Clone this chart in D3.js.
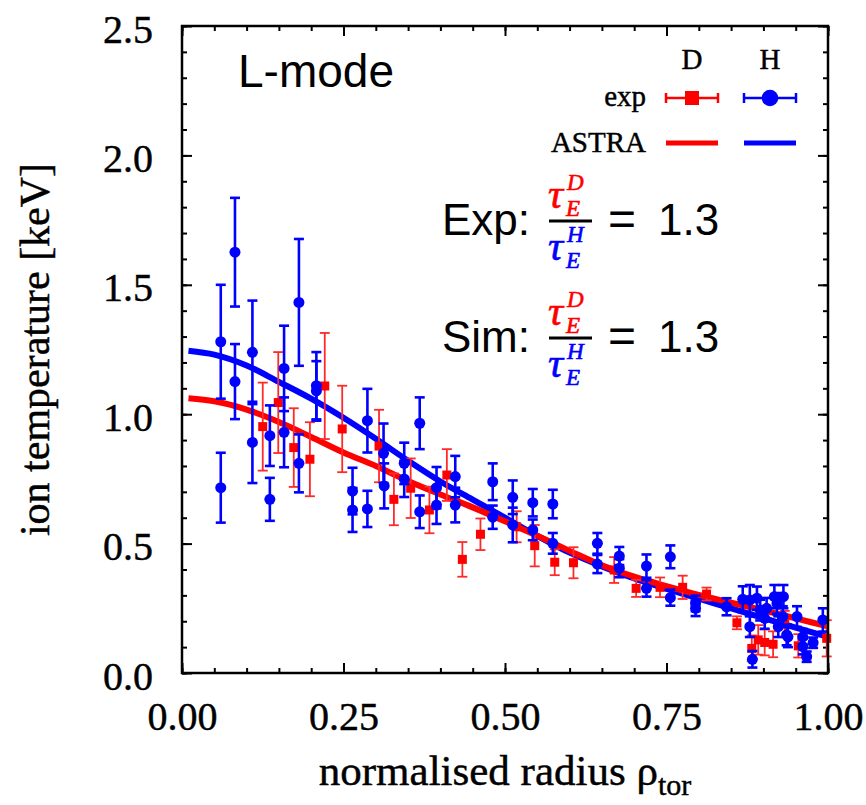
<!DOCTYPE html>
<html>
<head>
<meta charset="utf-8">
<script src="https://cdn.jsdelivr.net/npm/d3@7"></script>
<style>
  html, body { margin: 0; padding: 0; background: #fff; }
  svg { display: block; }
</style>
</head>
<body>
<svg id="chart" width="866" height="805"></svg>
<script>
// ASTRA simulated ion temperature profiles (keV) versus rho_tor
const rhoFit = [0.01, 0.05, 0.10, 0.15, 0.20, 0.25, 0.30, 0.35, 0.40, 0.45, 0.50,
                0.55, 0.60, 0.65, 0.70, 0.75, 0.80, 0.85, 0.90, 0.95, 1.00];
const tiFitH = [1.245, 1.230, 1.188, 1.125, 1.060, 0.986, 0.905, 0.820, 0.740, 0.670, 0.600,
                0.530, 0.465, 0.412, 0.365, 0.325, 0.287, 0.250, 0.212, 0.175, 0.140];
const tiFitD = [1.062, 1.050, 1.018, 0.970, 0.912, 0.852, 0.800, 0.742, 0.690, 0.640, 0.586,
                0.530, 0.472, 0.416, 0.372, 0.336, 0.302, 0.272, 0.242, 0.211, 0.180];

// Measured deuterium ion temperature (keV) with uncertainties
const rhoD = [0.125, 0.149, 0.173, 0.198, 0.221, 0.248, 0.305, 0.328, 0.354, 0.383,
              0.410, 0.434, 0.462, 0.518, 0.546, 0.577, 0.606, 0.669, 0.703, 0.740,
              0.775, 0.812, 0.859, 0.882, 0.892, 0.902, 0.915, 0.933, 0.954, 0.998];
const tiD  = [0.952, 1.045, 0.871, 0.826, 1.109, 0.943, 0.877, 0.671, 0.714, 0.630,
              0.765, 0.439, 0.536, 0.565, 0.492, 0.428, 0.426, 0.398, 0.327, 0.331,
              0.331, 0.305, 0.194, 0.095, 0.128, 0.118, 0.111, 0.190, 0.105, 0.134];
const errD = [0.170, 0.195, 0.152, 0.143, 0.205, 0.167, 0.140, 0.100, 0.115, 0.090,
              0.100, 0.067, 0.061, 0.060, 0.080, 0.050, 0.060, 0.050, 0.033, 0.038,
              0.045, 0.025, 0.025, 0.050, 0.057, 0.050, 0.050, 0.050, 0.045, 0.070];

// Measured hydrogen ion temperature (keV) with uncertainties
const rhoH = [0.060, 0.060, 0.082, 0.082, 0.109, 0.109, 0.136, 0.136, 0.158, 0.158,
              0.181, 0.181, 0.208, 0.208, 0.264, 0.264, 0.287, 0.287, 0.312, 0.313,
              0.344, 0.344, 0.368, 0.368, 0.394, 0.394, 0.423, 0.423, 0.481, 0.481,
              0.512, 0.512, 0.543, 0.543, 0.574, 0.574, 0.643, 0.643, 0.677, 0.677,
              0.719, 0.719, 0.756, 0.756, 0.795, 0.795, 0.843, 0.868, 0.879, 0.879,
              0.883, 0.895, 0.902, 0.917, 0.921, 0.923, 0.930, 0.931, 0.938, 0.952,
              0.961, 0.961, 0.967, 0.977, 0.992, 0.890, 0.905, 0.936];
const tiH  = [1.280, 0.716, 1.626, 1.126, 1.239, 0.891, 0.917, 0.671, 1.177, 0.930,
              1.432, 0.810, 1.110, 1.090, 0.703, 0.630, 0.975, 0.634, 0.849, 0.723,
              0.810, 0.750, 0.965, 0.623, 0.716, 0.649, 0.759, 0.649, 0.739, 0.602,
              0.679, 0.572, 0.658, 0.553, 0.653, 0.501, 0.501, 0.421, 0.452, 0.405,
              0.413, 0.327, 0.449, 0.291, 0.269, 0.250, 0.256, 0.285, 0.282, 0.179,
              0.053, 0.243, 0.211, 0.295, 0.269, 0.179, 0.218, 0.295, 0.140, 0.218,
              0.140, 0.102, 0.063, 0.117, 0.205, 0.289, 0.250, 0.147];
const errH = [0.220, 0.135, 0.210, 0.145, 0.200, 0.157, 0.117, 0.083, 0.165, 0.135,
              0.245, 0.112, 0.130, 0.115, 0.090, 0.085, 0.123, 0.070, 0.115, 0.087,
              0.080, 0.070, 0.100, 0.063, 0.080, 0.073, 0.080, 0.067, 0.071, 0.045,
              0.065, 0.067, 0.053, 0.040, 0.055, 0.040, 0.040, 0.035, 0.035, 0.035,
              0.045, 0.032, 0.044, 0.031, 0.030, 0.030, 0.033, 0.050, 0.058, 0.040,
              0.032, 0.040, 0.040, 0.045, 0.040, 0.040, 0.040, 0.045, 0.040, 0.040,
              0.030, 0.030, 0.020, 0.020, 0.045, 0.045, 0.040, 0.040];

// Axis ticks
const xMajor = [0, 0.25, 0.5, 0.75, 1.0];
const xLabels = ["0.00", "0.25", "0.50", "0.75", "1.00"];
const yMajor = [0, 0.5, 1.0, 1.5, 2.0, 2.5];
const yLabels = ["0.0", "0.5", "1.0", "1.5", "2.0", "2.5"];
const xMinor = d3.range(0, 21).map(i => i * 0.05);
const yMinor = d3.range(0, 26).map(i => i * 0.1);

const RED = "#ff0000", BLUE = "#0000ff";
const SERIF = "'Liberation Serif', 'Times New Roman', serif";
const SANS = "'Liberation Sans', Arial, sans-serif";

const svg = d3.select("#chart");
const L = 182, R = 828, T = 26, B = 673;
const x = d3.scaleLinear().domain([0, 1]).range([L, R]);
const y = d3.scaleLinear().domain([0, 2.5]).range([B, T]);

// slightly heavier serif strokes
function serif(sel, size) {
  return sel.attr("font-family", SERIF).attr("font-size", size)
    .attr("fill", "#000").attr("stroke", "#000").attr("stroke-width", 0.45);
}

// ---- axes (ticks point inward on all four sides) ----
function styleAxis(g) {
  g.select(".domain").remove();
  g.selectAll(".tick line").attr("stroke", "#000").attr("stroke-width", 2);
  serif(g.selectAll(".tick text"), 40);
}
svg.append("g").attr("transform", `translate(0,${B})`)
  .call(d3.axisBottom(x).tickValues(xMinor).tickSize(-5).tickFormat("")).call(styleAxis);
svg.append("g").attr("transform", `translate(0,${B})`)
  .call(d3.axisBottom(x).tickValues(xMajor).tickSize(-10).tickPadding(29)
        .tickFormat((d, i) => xLabels[i])).call(styleAxis);
svg.append("g").attr("transform", `translate(0,${T})`)
  .call(d3.axisTop(x).tickValues(xMinor).tickSize(-5).tickFormat("")).call(styleAxis);
svg.append("g").attr("transform", `translate(0,${T})`)
  .call(d3.axisTop(x).tickValues(xMajor).tickSize(-10).tickFormat("")).call(styleAxis);
svg.append("g").attr("transform", `translate(${L},0)`)
  .call(d3.axisLeft(y).tickValues(yMinor).tickSize(-5).tickFormat("")).call(styleAxis);
const yAx = svg.append("g").attr("transform", `translate(${L},0)`)
  .call(d3.axisLeft(y).tickValues(yMajor).tickSize(-10).tickPadding(29)
        .tickFormat((d, i) => yLabels[i])).call(styleAxis);
yAx.selectAll(".tick text").attr("dy", "0.4em");
svg.append("g").attr("transform", `translate(${R},0)`)
  .call(d3.axisRight(y).tickValues(yMinor).tickSize(-5).tickFormat("")).call(styleAxis);
svg.append("g").attr("transform", `translate(${R},0)`)
  .call(d3.axisRight(y).tickValues(yMajor).tickSize(-10).tickFormat("")).call(styleAxis);

// ---- axis titles ----
const xt = serif(svg.append("text"), 43).attr("x", (L + R) / 2).attr("y", 785)
  .attr("text-anchor", "middle");
xt.append("tspan").text("normalised radius \u03c1");
xt.append("tspan").attr("font-size", 30).attr("dy", 10).text("tor");

serif(svg.append("text"), 42).attr("transform", `translate(49,${(T + B) / 2}) rotate(-90)`)
  .attr("text-anchor", "middle").text("ion temperature [keV]");

// ---- plot contents ----
const plot = svg.append("g");
const line = d3.line().x(d => x(d[0])).y(d => y(d[1])).curve(d3.curveMonotoneX);

plot.append("path").datum(rhoFit.map((r, i) => [r, tiFitH[i]]))
  .attr("d", line).attr("fill", "none").attr("stroke", BLUE).attr("stroke-width", 6);
plot.append("path").datum(rhoFit.map((r, i) => [r, tiFitD[i]]))
  .attr("d", line).attr("fill", "none").attr("stroke", RED).attr("stroke-width", 6);

function errorBars(g, rho, ti, err, color, width, cap) {
  const pts = rho.map((r, i) => ({ r, t: ti[i], e: err[i] }));
  const eb = g.append("g").attr("stroke", color).attr("stroke-width", width);
  eb.selectAll("line.v").data(pts).join("line").attr("class", "v")
    .attr("x1", d => x(d.r)).attr("x2", d => x(d.r))
    .attr("y1", d => y(d.t - d.e)).attr("y2", d => y(d.t + d.e));
  eb.selectAll("line.top").data(pts).join("line").attr("class", "top")
    .attr("x1", d => x(d.r) - cap).attr("x2", d => x(d.r) + cap)
    .attr("y1", d => y(d.t + d.e)).attr("y2", d => y(d.t + d.e));
  eb.selectAll("line.bot").data(pts).join("line").attr("class", "bot")
    .attr("x1", d => x(d.r) - cap).attr("x2", d => x(d.r) + cap)
    .attr("y1", d => y(d.t - d.e)).attr("y2", d => y(d.t - d.e));
  return pts;
}

// Deuterium: squares
const ptsD = errorBars(plot, rhoD, tiD, errD, "#ff2a2a", 1.8, 5);
plot.append("g").selectAll("rect").data(ptsD).join("rect")
  .attr("x", d => x(d.r) - 4.5).attr("y", d => y(d.t) - 4.5)
  .attr("width", 9).attr("height", 9).attr("fill", RED);

// Hydrogen: circles
const ptsH = errorBars(plot, rhoH, tiH, errH, BLUE, 2.6, 5);
plot.append("g").selectAll("circle").data(ptsH).join("circle")
  .attr("cx", d => x(d.r)).attr("cy", d => y(d.t)).attr("r", 5.5).attr("fill", BLUE);

// ---- frame ----
svg.append("rect").attr("x", L).attr("y", T).attr("width", R - L).attr("height", B - T)
  .attr("fill", "none").attr("stroke", "#000").attr("stroke-width", 2.5);

// ---- legend ----
const leg = svg.append("g");
serif(leg.append("text"), 29).attr("x", 692).attr("y", 69).attr("text-anchor", "middle").text("D");
serif(leg.append("text"), 29).attr("x", 770).attr("y", 69).attr("text-anchor", "middle").text("H");
serif(leg.append("text"), 29).attr("x", 646).attr("y", 106).attr("text-anchor", "end").text("exp");
serif(leg.append("text"), 29).attr("x", 646).attr("y", 152).attr("text-anchor", "end").text("ASTRA");
function legBar(x0, x1, yy, color, w) {
  leg.append("line").attr("x1", x0).attr("x2", x1).attr("y1", yy).attr("y2", yy)
    .attr("stroke", color).attr("stroke-width", w);
  [x0, x1].forEach(xx => leg.append("line").attr("x1", xx).attr("x2", xx)
    .attr("y1", yy - 5).attr("y2", yy + 5).attr("stroke", color).attr("stroke-width", w));
}
legBar(666, 718, 98, RED, 2.5);
leg.append("rect").attr("x", 685).attr("y", 91).attr("width", 14).attr("height", 14).attr("fill", RED);
legBar(744, 796, 98, BLUE, 2.5);
leg.append("circle").attr("cx", 770).attr("cy", 98).attr("r", 8.3).attr("fill", BLUE);
leg.append("line").attr("x1", 666).attr("x2", 718).attr("y1", 143).attr("y2", 143)
  .attr("stroke", RED).attr("stroke-width", 5);
leg.append("line").attr("x1", 744).attr("x2", 796).attr("y1", 143).attr("y2", 143)
  .attr("stroke", BLUE).attr("stroke-width", 5);

// ---- annotations ----
svg.append("text").attr("x", 238).attr("y", 87).attr("font-family", SANS)
  .attr("font-size", 46).text("L-mode");

// ratio tau_E^D / tau_E^H written as a stacked fraction
function tauTerm(g, xx, base, color, sup) {
  const t = g.append("text").attr("x", xx).attr("y", base)
    .attr("font-family", SERIF).attr("font-style", "italic")
    .attr("fill", color).attr("stroke", color).attr("stroke-width", 0.6);
  t.append("tspan").attr("font-size", 42).text("\u03c4");
  t.append("tspan").attr("font-size", 23).attr("x", xx + 19).attr("dy", -18).text(sup);
  t.append("tspan").attr("font-size", 23).attr("x", xx + 18).attr("dy", 26).text("E");
}
function ratio(label, base) {
  const g = svg.append("g");
  g.append("text").attr("x", 442).attr("y", base).attr("font-family", SANS)
    .attr("font-size", 44).text(label);
  g.append("line").attr("x1", 549).attr("x2", 592).attr("y1", base - 14).attr("y2", base - 14)
    .attr("stroke", "#000").attr("stroke-width", 3);
  tauTerm(g, 548, base - 27, RED, "D");
  tauTerm(g, 548, base + 25, BLUE, "H");
  g.append("text").attr("x", 608).attr("y", base).attr("font-family", SANS)
    .attr("font-size", 48).text("=");
  g.append("text").attr("x", 658).attr("y", base).attr("font-family", SANS)
    .attr("font-size", 44).text("1.3");
}
ratio("Exp:", 235);
ratio("Sim:", 352);
</script>
</body>
</html>
